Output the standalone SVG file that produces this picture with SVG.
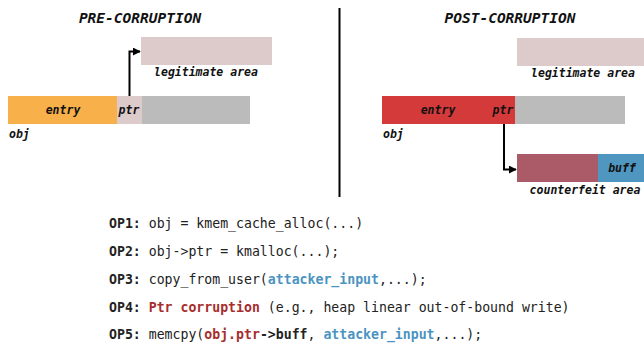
<svg xmlns="http://www.w3.org/2000/svg" width="644" height="343" viewBox="0 0 644 343">
<style>
.title{font-family:"DejaVu Sans Mono","Liberation Mono",monospace;font-weight:bold;font-style:italic;font-size:14.5px;fill:#111}
.lbl{font-family:"DejaVu Sans Mono","Liberation Mono",monospace;font-weight:bold;font-style:italic;font-size:11.5px;fill:#111}
.code{font-family:"DejaVu Sans Mono","Liberation Mono",monospace;font-size:13.2px;fill:#222}
.b{font-weight:bold}
.blue{fill:#4b93c1;font-weight:bold}
.red{fill:#a82e2e;font-weight:bold}
.conn{fill:none;stroke:#000;stroke-width:2}
</style>
<defs>
<marker id="ah" viewBox="0 0 10 10" refX="9" refY="5" markerWidth="4" markerHeight="4" orient="auto" markerUnits="strokeWidth">
<path d="M0,0 L10,5 L0,10 z" fill="#000"/>
</marker>
</defs>
<rect width="644" height="343" fill="#fff"/>
<g id="pre">
<text class="title" x="140" y="23" text-anchor="middle">PRE-CORRUPTION</text>
<g id="pre-legit">
<rect x="141" y="37" width="131" height="28" fill="#ddcacb"/>
<text class="lbl" x="206" y="76" text-anchor="middle">legitimate area</text>
</g>
<g id="pre-obj">
<rect x="8" y="96" width="109" height="28" fill="#f8b04a"/>
<rect x="117" y="96" width="25" height="28" fill="#ddcacb"/>
<rect x="142" y="96" width="108" height="28" fill="#bbbbbb"/>
<text class="lbl" x="63" y="114" text-anchor="middle">entry</text>
<text class="lbl" x="129" y="114" text-anchor="middle">ptr</text>
<text class="lbl" x="9" y="138">obj</text>
</g>
</g>
<line x1="339.5" y1="8" x2="339.5" y2="197" stroke="#000" stroke-width="2"/>
<g id="post">
<text class="title" x="510" y="23" text-anchor="middle">POST-CORRUPTION</text>
<g id="post-legit">
<rect x="517" y="38" width="127" height="28" fill="#ddcacb"/>
<text class="lbl" x="583" y="77" text-anchor="middle">legitimate area</text>
</g>
<g id="post-obj">
<rect x="382" y="96" width="133" height="28" fill="#d43a3a"/>
<rect x="515" y="96" width="110" height="28" fill="#bbbbbb"/>
<text class="lbl" x="438" y="114" text-anchor="middle">entry</text>
<text class="lbl" x="503" y="114" text-anchor="middle">ptr</text>
<text class="lbl" x="383" y="138">obj</text>
</g>
<g id="counterfeit">
<rect x="517" y="154" width="81" height="28" fill="#ab5a67"/>
<rect x="598" y="154" width="46" height="28" fill="#4f96c0"/>
<text class="lbl" x="622" y="172" text-anchor="middle">buff</text>
<text class="lbl" x="585" y="194" text-anchor="middle">counterfeit area</text>
</g>
</g>
<g id="connectors">
<path class="conn" d="M129.5,96 V51.5 H140" marker-end="url(#ah)"/>
<path class="conn" d="M504,124 V169.5 H516" marker-end="url(#ah)"/>
</g>
<g id="code">
<text class="code" x="109" y="228"><tspan class="b">OP1:</tspan> obj = kmem_cache_alloc(...)</text>
<text class="code" x="109" y="256"><tspan class="b">OP2:</tspan> obj-&gt;ptr = kmalloc(...);</text>
<text class="code" x="109" y="283.5"><tspan class="b">OP3:</tspan> copy_from_user(<tspan class="blue">attacker_input</tspan>,...);</text>
<text class="code" x="109" y="311.5"><tspan class="b">OP4:</tspan> <tspan class="red">Ptr corruption</tspan> (e.g., heap linear out-of-bound write)</text>
<text class="code" x="109" y="339"><tspan class="b">OP5:</tspan> memcpy(<tspan class="red">obj.ptr</tspan><tspan class="b">-&gt;buff</tspan>, <tspan class="blue">attacker_input</tspan>,...);</text>
</g>
</svg>
